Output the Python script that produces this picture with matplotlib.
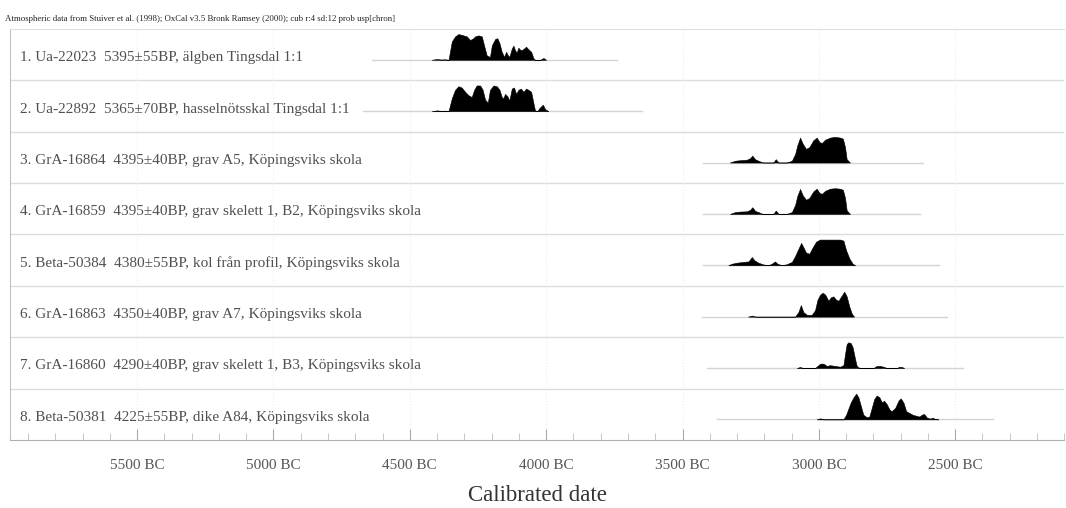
import numpy as np
import matplotlib
matplotlib.use('Agg')
import matplotlib.pyplot as plt
from matplotlib.ticker import MultipleLocator, FuncFormatter

plt.rcParams['font.family'] = ['Liberation Serif', 'DejaVu Serif']

# sample labels (top to bottom)
labels = [
    '1. Ua-22023  5395±55BP, älgben Tingsdal 1:1',
    '2. Ua-22892  5365±70BP, hasselnötsskal Tingsdal 1:1',
    '3. GrA-16864  4395±40BP, grav A5, Köpingsviks skola',
    '4. GrA-16859  4395±40BP, grav skelett 1, B2, Köpingsviks skola',
    '5. Beta-50384  4380±55BP, kol från profil, Köpingsviks skola',
    '6. GrA-16863  4350±40BP, grav A7, Köpingsviks skola',
    '7. GrA-16860  4290±40BP, grav skelett 1, B3, Köpingsviks skola',
    '8. Beta-50381  4225±55BP, dike A84, Köpingsviks skola',
]

# calibrated probability (years BC, relative height)
yrs1 = [4420, 4400, 4385, 4370, 4358, 4346, 4334, 4322, 4310, 4291, 4279, 4267, 4261, 4248,
        4236, 4228, 4218, 4206, 4199, 4187, 4179, 4171, 4163, 4154, 4147, 4142, 4135, 4126,
        4120, 4114, 4108, 4102, 4096, 4090, 4081, 4074, 4065, 4055, 4047, 4041, 4022, 4010, 4000]
prob1 = [0, 0.03, 0.01, 0.02, 0, 0.71, 0.91, 1.0, 0.97, 0.91, 0.77, 0.84, 0.91, 0.95,
         0.91, 0.57, 0.17, 0.11, 0.57, 0.81, 0.84, 0.64, 0.31, 0.11, 0.31, 0.2, 0.11, 0.44,
         0.55, 0.37, 0.28, 0.47, 0.4, 0.37, 0.44, 0.51, 0.41, 0.31, 0.07, 0, 0, 0.07, 0]

yrs2 = [4420, 4400, 4385, 4370, 4358, 4346, 4334, 4322, 4310, 4297, 4285, 4273, 4264, 4255,
        4242, 4233, 4224, 4214, 4206, 4193, 4181, 4171, 4163, 4157, 4151, 4142, 4135, 4126,
        4118, 4110, 4102, 4093, 4083, 4074, 4065, 4055, 4047, 4041, 4032, 4025, 4012, 4004, 3992]
prob2 = [0, 0.03, 0.01, 0.02, 0, 0.5, 0.83, 0.97, 0.92, 0.75, 0.62, 0.55, 0.83, 1.0,
         1.0, 0.83, 0.45, 0.33, 0.83, 1.0, 0.97, 0.83, 0.55, 0.5, 0.67, 0.58, 0.42, 0.88,
         0.92, 0.67, 0.83, 0.88, 0.75, 0.88, 0.83, 0.75, 0.33, 0.03, 0, 0.12, 0.25, 0.08, 0]

yrs3 = [3326, 3307, 3289, 3264, 3252, 3244, 3234, 3222, 3206, 3167, 3158, 3148, 3118, 3099,
        3087, 3079, 3069, 3059, 3047, 3035, 3020, 3008, 2998, 2989, 2977, 2959, 2941, 2922,
        2912, 2904, 2898, 2886]
prob3 = [0, 0.07, 0.09, 0.11, 0.17, 0.27, 0.13, 0.07, 0, 0, 0.13, 0, 0, 0.07,
         0.33, 0.67, 0.97, 0.73, 0.53, 0.6, 0.87, 0.97, 0.8, 0.76, 0.89, 0.97, 1.0, 0.97,
         0.93, 0.6, 0.13, 0]

yrs4 = [3326, 3307, 3289, 3264, 3252, 3244, 3234, 3222, 3206, 3167, 3158, 3148, 3118, 3099,
        3087, 3079, 3069, 3059, 3047, 3035, 3020, 3008, 2998, 2989, 2977, 2959, 2941, 2922,
        2912, 2904, 2898, 2886]
prob4 = [0, 0.07, 0.09, 0.1, 0.16, 0.26, 0.12, 0.07, 0, 0, 0.13, 0, 0, 0.07,
         0.35, 0.7, 0.97, 0.72, 0.55, 0.62, 0.88, 0.98, 0.82, 0.78, 0.9, 0.98, 1.0, 0.98,
         0.94, 0.62, 0.14, 0]

yrs5 = [3332, 3319, 3301, 3277, 3258, 3246, 3236, 3222, 3203, 3185, 3173, 3161, 3152, 3136,
        3118, 3099, 3087, 3075, 3065, 3057, 3047, 3035, 3022, 3010, 2996, 2971, 2941, 2922,
        2910, 2900, 2888, 2876, 2867]
prob5 = [0, 0.06, 0.1, 0.13, 0.15, 0.32, 0.19, 0.1, 0.03, 0, 0.06, 0.15, 0.06, 0,
         0.04, 0.13, 0.36, 0.64, 0.87, 0.71, 0.49, 0.45, 0.71, 0.92, 1.0, 1.0, 1.0, 1.0,
         0.96, 0.58, 0.26, 0.06, 0]

yrs6 = [3260, 3245, 3232, 3087, 3075, 3066, 3057, 3044, 3026, 3014, 3005, 2995, 2986, 2977,
        2965, 2956, 2947, 2937, 2928, 2918, 2907, 2898, 2888, 2879, 2871]
prob6 = [0, 0.04, 0, 0, 0.18, 0.45, 0.18, 0.07, 0.07, 0.25, 0.66, 0.86, 0.93, 0.86,
         0.62, 0.75, 0.79, 0.66, 0.62, 0.79, 0.97, 0.79, 0.38, 0.11, 0]

yrs7 = [3081, 3069, 3057, 3014, 3005, 2995, 2983, 2971, 2959, 2940, 2922, 2910, 2904, 2898,
        2892, 2883, 2876, 2867, 2861, 2851, 2800, 2788, 2775, 2763, 2751, 2714, 2705, 2696, 2687]
prob7 = [0, 0.04, 0, 0, 0.08, 0.17, 0.17, 0.08, 0.11, 0.08, 0.05, 0.11, 0.54, 0.93,
         1.0, 0.97, 0.8, 0.34, 0.08, 0, 0, 0.08, 0.08, 0.05, 0, 0, 0.05, 0.04, 0]

yrs8 = [3008, 2995, 2983, 2910, 2900, 2892, 2883, 2873, 2863, 2855, 2846, 2837, 2824, 2815,
        2806, 2797, 2788, 2778, 2769, 2761, 2751, 2741, 2733, 2720, 2708, 2700, 2690, 2680,
        2668, 2656, 2643, 2631, 2623, 2614, 2604, 2592, 2582, 2574, 2562]
prob8 = [0, 0.04, 0, 0, 0.18, 0.41, 0.66, 0.86, 1.0, 0.86, 0.52, 0.18, 0.08, 0.11,
         0.45, 0.79, 0.93, 0.86, 0.66, 0.73, 0.59, 0.38, 0.32, 0.45, 0.73, 0.82, 0.66, 0.32,
         0.25, 0.18, 0.14, 0.11, 0.18, 0.21, 0.07, 0.03, 0.07, 0.01, 0]

all_yrs = [yrs1, yrs2, yrs3, yrs4, yrs5, yrs6, yrs7, yrs8]
all_prob = [prob1, prob2, prob3, prob4, prob5, prob6, prob7, prob8]

# plotted range of each distribution (years BC)
range_start = [4638, 4671, 3424, 3424, 3424, 3428, 3410, 3373]
range_end = [3740, 3648, 2618, 2629, 2560, 2530, 2471, 2361]

title = ('Atmospheric data from Stuiver et al. (1998); OxCal v3.5 Bronk Ramsey (2000); '
         'cub r:4 sd:12 prob usp[chron]')

fig = plt.figure(figsize=(10.66, 5.08), dpi=100)
ax = fig.add_axes([0.0094, 0.134, 0.989, 0.809])

n = len(labels)
for i in range(n):
    base = i + 0.6
    x = -np.array(all_yrs[i])
    y = np.array(all_prob[i])
    ax.plot([-range_start[i], -range_end[i]], [base, base], color='#d4d4d4', lw=1, zorder=1)
    ax.fill_between(x, base, base - 0.5 * y, color='black', lw=0.4, zorder=3)
    ax.text(0.0095, base - 0.04, labels[i], transform=ax.get_yaxis_transform(),
            ha='left', va='center', fontsize=11, color='#505050')
    if i > 0:
        ax.axhline(i, color='#dcdcdc', lw=1, zorder=0)

for v in range(-5500, -2000, 500):
    ax.axvline(v, color='#eeeeee', lw=0.8, ls=':', zorder=0)

ax.set_xlim(-5966, -2100)
ax.set_ylim(n, 0)
ax.set_yticks([])
ax.xaxis.set_major_locator(MultipleLocator(500))
ax.xaxis.set_minor_locator(MultipleLocator(100))
ax.xaxis.set_major_formatter(FuncFormatter(lambda v, p: f'{-v:.0f} BC'))
ax.tick_params(axis='x', which='major', direction='in', length=8, color='#aaaaaa',
               labelsize=11, labelcolor='#555555', pad=14)
ax.tick_params(axis='x', which='minor', direction='in', length=5, color='#bbbbbb')
ax.set_xlabel('Calibrated date', fontsize=16.5, color='#333333', labelpad=9)

ax.spines['right'].set_visible(False)
ax.spines['top'].set_color('#e0e0e0')
ax.spines['left'].set_color('#c0c0c0')
ax.spines['bottom'].set_color('#b0b0b0')

fig.text(0.005, 0.963, title, fontsize=6.3, color='#222222', ha='left', va='center')

fig.savefig('out.png', dpi=100)
